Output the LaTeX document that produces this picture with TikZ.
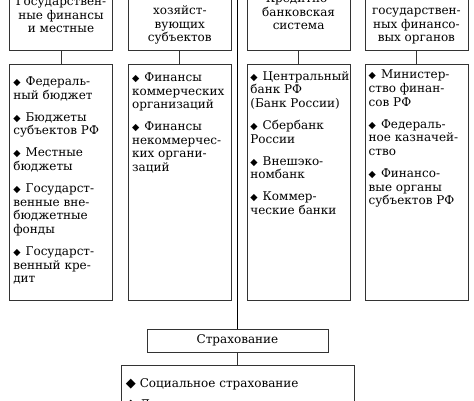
\documentclass[tikz,border=0pt]{standalone}
\usepackage{fontspec}
\setmainfont{DejaVu Serif}
\newfontfamily\symfont{DejaVu Sans}
\usetikzlibrary{positioning}

\newcommand{\itm}{{\symfont\fontsize{9.5}{9.5}\selectfont ◆}\hspace{5pt}}
\newcommand{\bigitm}{{\symfont\fontsize{13}{13}\selectfont ◆}\hspace{4pt}}

\begin{document}
\begin{tikzpicture}[x=1pt,y=-1pt,
every node/.style={font=\fontsize{12}{13.6}\selectfont,inner sep=0pt},
box/.style={draw=black!80,line width=0.8pt,minimum width=103pt},
topbox/.style={box,minimum height=90pt,anchor=south},
listbox/.style={box,minimum height=236pt},
title/.style={align=center,text depth=0pt},
items/.style={align=left},
link/.style={draw=black!80,line width=0.8pt}
]

\useasboundingbox (0,0) rectangle (474,400);
\clip (0,0) rectangle (474,400);

% upper row
\node[topbox] (top1) at (61,51) {};
\node[topbox,right=15pt of top1] (top2) {};
\node[topbox,right=15pt of top2] (top3) {};
\node[topbox,right=14pt of top3] (top4) {};

\node[title,above=18pt of top1.south] (tt1) {Государствен-\\ные финансы\\и местные};
\node[title,above=9pt of top2.south] (tt2) {хозяйст-\\вующих\\субъектов};
\node[title,above=21pt of top3.south] (tt3) {Кредитно-\\банковская\\система};
\node[title,above=9pt of top4.south] (tt4) {государствен-\\ных финансо-\\вых органов};

% lists
\node[listbox,below=13pt of top1] (low1) {};
\node[listbox,below=13pt of top2] (low2) {};
\node[listbox,below=13pt of top3] (low3) {};
\node[listbox,below=13pt of top4] (low4) {};

\node[items,below right=12.5pt and 4pt of low1.north west] (it1) {\itm Федераль-\\ный бюджет\\[8.5pt]
\itm Бюджеты\\субъектов РФ\\[8.5pt]\itm Местные\\бюджеты\\[8.5pt]
\itm Государст-\\венные вне-\\бюджетные\\фонды\\[8.5pt]\itm Государст-\\венный кре-\\дит};
\node[items,below right=8.5pt and 4pt of low2.north west] (it2) {\itm Финансы\\коммерческих\\организаций\\[8.5pt]
\itm Финансы\\некоммерчес-\\ких органи-\\заций};
\node[items,below right=7pt and 3.5pt of low3.north west] (it3) {\itm Центральный\\банк РФ\\(Банк России)\\[8.5pt]
\itm Сбербанк\\России\\[8.5pt]\itm Внешэко-\\номбанк\\[8.5pt]\itm Коммер-\\ческие банки};
\node[items,below right=6pt and 4pt of low4.north west] (it4) {\itm Министер-\\ство финан-\\сов РФ\\[8.5pt]
\itm Федераль-\\ное казначей-\\ство\\[8.5pt]\itm Финансо-\\вые органы\\субъектов РФ};

% insurance
\node[box,minimum width=181pt,minimum height=23pt] (strah) at (237.5,340.5) {Страхование};
\node[box,minimum width=233pt,minimum height=60pt,below=13pt of strah] (ins) {};
\node[items,below right=12.5pt and 5pt of ins.north west] (insit) {\bigitm Социальное страхование\\[8pt]
\bigitm Личное страхование};

\coordinate (trunk) at (237.5,-5);

\foreach \i in {1,...,4}
  \draw[link] (top\i) -- (low\i);
\draw[link,draw=black,line width=1.3pt] (trunk) -- (strah);
\draw[link] (strah) -- (ins);

\end{tikzpicture}
\end{document}
